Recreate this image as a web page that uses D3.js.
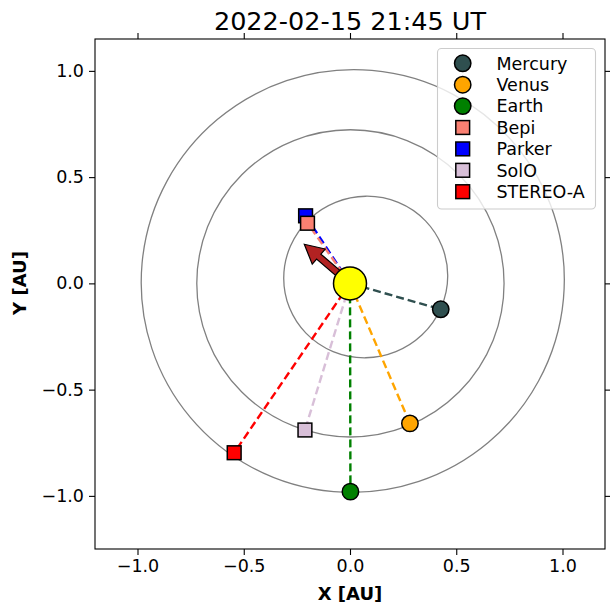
<!DOCTYPE html>
<html>
<head>
<meta charset="utf-8">
<script src="https://cdn.jsdelivr.net/npm/d3@7/dist/d3.min.js"></script>
<style>
html,body{margin:0;padding:0;background:#fff;}
svg{display:block;font-family:"DejaVu Sans",sans-serif;}
</style>
</head>
<body>
<svg id="chart" width="610" height="605"></svg>
<script>
const title = "2022-02-15 21:45 UT";
const names = ["Mercury","Venus","Earth","Bepi","Parker","SolO","STEREO-A"];
const colors = ["#2f4f4f","#ffa500","#008000","#fa8072","#0000ff","#d8bfd8","#ff0000"];
const shapes = ["circle","circle","circle","square","square","square","square"];
const xs = [0.427, 0.282, 0.002, -0.200, -0.209, -0.212, -0.545];
const ys = [-0.122, -0.659, -0.980, 0.283, 0.318, -0.690, -0.797];
const drawOrder = [0, 1, 2, 4, 3, 5, 6];
// orbits: centre x, centre y, semi-major, semi-minor, rotation (deg)
const orbitCx = [0.074, 0.002, 0.013];
const orbitCy = [0.030, 0.000, 0.011];
const orbitA = [0.387, 0.723, 0.998];
const orbitB = [0.379, 0.723, 0.992];
const orbitRot = [22, 0, 40];
const arrowVec = [-0.215, 0.184];
const xTicks = [-1.0, -0.5, 0.0, 0.5, 1.0];
const yTicks = [-1.0, -0.5, 0.0, 0.5, 1.0];
const xDomain = [-1.2, 1.2];
const yDomain = [-1.25, 1.15];

const svg = d3.select("#chart");
const L = 95, R = 605, T = 39, B = 549;
const x = d3.scaleLinear().domain(xDomain).range([L, R]);
const y = d3.scaleLinear().domain(yDomain).range([B, T]);
const fmt = d3.format(".1f");

svg.append("defs").append("clipPath").attr("id","clip")
  .append("rect").attr("x",L).attr("y",T).attr("width",R-L).attr("height",B-T);
const plot = svg.append("g").attr("clip-path","url(#clip)");

// orbits
orbitA.forEach((a,i)=>{
  const cx = x(orbitCx[i]), cy = y(orbitCy[i]);
  plot.append("ellipse")
    .attr("cx",cx).attr("cy",cy)
    .attr("rx", x(a)-x(0)).attr("ry", x(orbitB[i])-x(0))
    .attr("transform",`rotate(${-orbitRot[i]},${cx},${cy})`)
    .attr("fill","none").attr("stroke","#808080").attr("stroke-width",1.3);
});

// dashed lines from sun
drawOrder.forEach(i=>{
  plot.append("line")
    .attr("x1",x(0)).attr("y1",y(0)).attr("x2",x(xs[i])).attr("y2",y(ys[i]))
    .attr("stroke",colors[i]).attr("stroke-width",2.4)
    .attr("stroke-dasharray","8,4");
});

// arrow
(function(){
  const x0 = x(0), y0 = y(0), x1 = x(arrowVec[0]), y1 = y(arrowVec[1]);
  const dx = x1-x0, dy = y1-y0, len = Math.hypot(dx,dy);
  const ux = dx/len, uy = dy/len, px = -uy, py = ux;
  const hl = 19, hw = 10, sw = 3.3;
  const bx = x1 - ux*hl, by = y1 - uy*hl;
  const pts = [
    [x0+px*sw, y0+py*sw],[bx+px*sw, by+py*sw],[bx+px*hw, by+py*hw],[x1,y1],
    [bx-px*hw, by-py*hw],[bx-px*sw, by-py*sw],[x0-px*sw, y0-py*sw]
  ];
  plot.append("polygon").attr("points",pts.map(p=>p.join(",")).join(" "))
    .attr("fill","#b22222").attr("stroke","#000").attr("stroke-width",1.2)
    .attr("stroke-linejoin","miter");
})();

// sun
plot.append("circle").attr("cx",x(0)).attr("cy",y(0)).attr("r",16.5)
  .attr("fill","#ffff00").attr("stroke","#000").attr("stroke-width",1.5);

function marker(g, shape, cx, cy, color){
  if(shape==="circle"){
    g.append("circle").attr("cx",cx).attr("cy",cy).attr("r",8.2)
      .attr("fill",color).attr("stroke","#000").attr("stroke-width",1.5);
  } else {
    const s = 13.8;
    g.append("rect").attr("x",cx-s/2).attr("y",cy-s/2).attr("width",s).attr("height",s)
      .attr("fill",color).attr("stroke","#000").attr("stroke-width",1.5);
  }
}
drawOrder.forEach(i=> marker(plot, shapes[i], x(xs[i]), y(ys[i]), colors[i]));

// frame
svg.append("rect").attr("x",L).attr("y",T).attr("width",R-L).attr("height",B-T)
  .attr("fill","none").attr("stroke","#000").attr("stroke-width",1.1);

// axes
const fs = "17.5px";
const ax = svg.append("g").attr("transform",`translate(0,${B})`)
  .call(d3.axisBottom(x).tickValues(xTicks).tickFormat(fmt).tickSize(6).tickPadding(5));
const axT = svg.append("g").attr("transform",`translate(0,${T})`)
  .call(d3.axisTop(x).tickValues(xTicks).tickFormat("").tickSize(6));
const ay = svg.append("g").attr("transform",`translate(${L},0)`)
  .call(d3.axisLeft(y).tickValues(yTicks).tickFormat(fmt).tickSize(6).tickPadding(5));
const ayR = svg.append("g").attr("transform",`translate(${R},0)`)
  .call(d3.axisRight(y).tickValues(yTicks).tickFormat("").tickSize(6));
[ax,axT,ay,ayR].forEach(g=>{
  g.select(".domain").remove();
  g.selectAll(".tick line").attr("stroke","#000").attr("stroke-width",1.1);
  g.selectAll(".tick text").attr("fill","#000").style("font-size",fs)
    .style("font-family","'DejaVu Sans',sans-serif");
});

// labels
svg.append("text").attr("x",(L+R)/2).attr("y",600).attr("text-anchor","middle")
  .style("font-size","18px").style("font-weight","bold").text("X [AU]");
svg.append("text").attr("transform",`translate(26,283) rotate(-90)`)
  .attr("text-anchor","middle").style("font-size","18px").style("font-weight","bold").text("Y [AU]");
svg.append("text").attr("x",(L+R)/2).attr("y",30).attr("text-anchor","middle")
  .style("font-size","25.5px").text(title);

// legend
const lg = svg.append("g");
lg.append("rect").attr("x",437.5).attr("y",48.5).attr("width",158).attr("height",160.5)
  .attr("rx",4).attr("fill","#fff").attr("fill-opacity",0.8)
  .attr("stroke","#cccccc").attr("stroke-width",1.1);
names.forEach((n,i)=>{
  const cy = 63.3 + i*21.4;
  marker(lg, shapes[i], 462.7, cy, colors[i]);
  lg.append("text").attr("x",496.5).attr("y",cy).attr("dy","0.36em")
    .style("font-size",fs).text(n);
});
</script>
</body>
</html>
